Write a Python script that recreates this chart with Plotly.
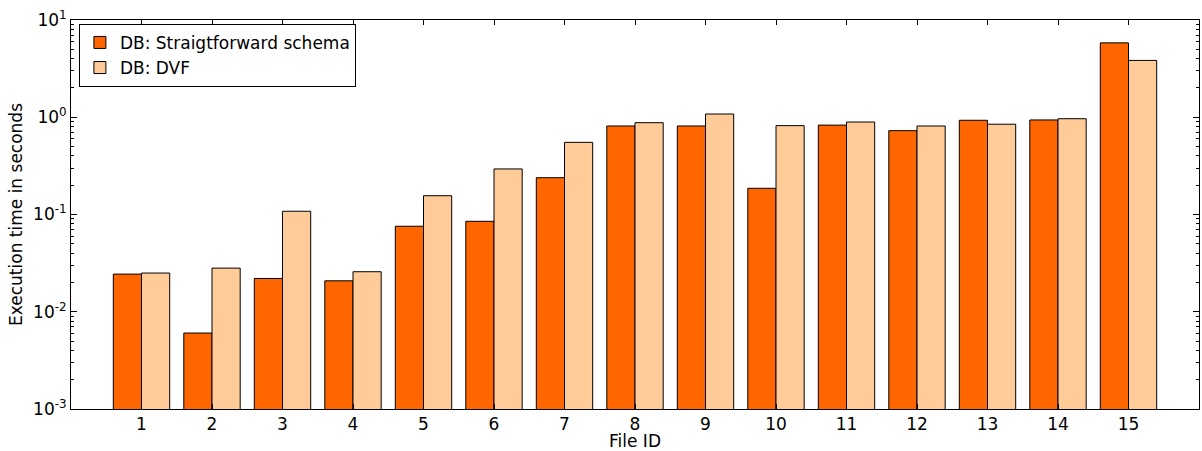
import plotly.graph_objects as go

file_ids = list(range(1, 16))
straightforward = [0.0244, 0.00604, 0.0220, 0.0208, 0.0757, 0.0851, 0.239, 0.813,
                   0.813, 0.186, 0.830, 0.728, 0.931, 0.938, 5.82]
dvf = [0.0250, 0.0281, 0.108, 0.0258, 0.156, 0.294, 0.552, 0.879,
       1.08, 0.820, 0.893, 0.813, 0.848, 0.966, 3.84]

ytick_vals = [1e-3, 1e-2, 1e-1, 1e0, 1e1]
ytick_text = ["10<sup>-3</sup>", "10<sup>-2</sup>", "10<sup>-1</sup>",
              "10<sup>0</sup>", "10<sup>1</sup>"]
minor_vals = [m * 10.0 ** k for k in range(-3, 1) for m in range(2, 10)]

font = "DejaVu Sans"
FS = 17

fig = go.Figure()
fig.add_trace(go.Bar(x=file_ids, y=straightforward, name="DB: Straigtforward schema",
                     width=0.4, offset=-0.4,
                     marker=dict(color="#FF6600", line=dict(color="black", width=1))))
fig.add_trace(go.Bar(x=file_ids, y=dvf, name="DB: DVF",
                     width=0.4, offset=0,
                     marker=dict(color="#FFCC99", line=dict(color="black", width=1))))

common_y = dict(type="log", range=[-3, 1], showgrid=False, zeroline=False,
                automargin=False)

fig.update_layout(
    width=1202, height=451, autosize=False,
    margin=dict(l=71, r=3, t=20, b=42),
    plot_bgcolor="white", paper_bgcolor="white",
    barmode="overlay",
    font=dict(family=font, size=FS, color="black"),
    showlegend=True,
    legend=dict(x=0.007, y=0.99, xanchor="left", yanchor="top",
                bordercolor="black", borderwidth=1, bgcolor="white",
                font=dict(size=17, family=font), tracegroupgap=2),
    xaxis=dict(range=[0, 16], tickvals=file_ids, ticktext=[str(i) for i in file_ids],
               ticks="inside", ticklen=5, tickcolor="black", mirror="ticks",
               showline=True, linecolor="black", linewidth=1, showgrid=False,
               zeroline=False, automargin=False,
               title=dict(text="File ID", standoff=2, font=dict(size=FS)),
               tickfont=dict(size=FS)),
    yaxis=dict(**common_y, tickvals=ytick_vals, ticktext=ytick_text,
               ticks="inside", ticklen=6, tickcolor="black",
               showline=True, linecolor="black", linewidth=1,
               minor=dict(tickvals=minor_vals, ticks="inside", ticklen=3,
                          tickcolor="black", showgrid=False),
               title=dict(text="Execution time in seconds", standoff=6, font=dict(size=FS)),
               tickfont=dict(size=FS)),
    yaxis2=dict(**common_y, overlaying="y", side="right", tickvals=ytick_vals,
                showticklabels=False, ticks="inside", ticklen=6, tickcolor="black",
                showline=True, linecolor="black", linewidth=1,
                minor=dict(tickvals=minor_vals, ticks="inside", ticklen=3,
                           tickcolor="black", showgrid=False)),
)
fig.add_trace(go.Scatter(x=[None], y=[None], yaxis="y2", showlegend=False,
                         hoverinfo="skip"))

post = ("document.body.style.margin='0px';"
        "document.body.style.overflow='hidden';"
        "Plotly.relayout(document.getElementById('{plot_id}'), {width: 1202, height: 451});")

fig.write_html("out.html", post_script=post,
               config={"responsive": False, "displayModeBar": False})
